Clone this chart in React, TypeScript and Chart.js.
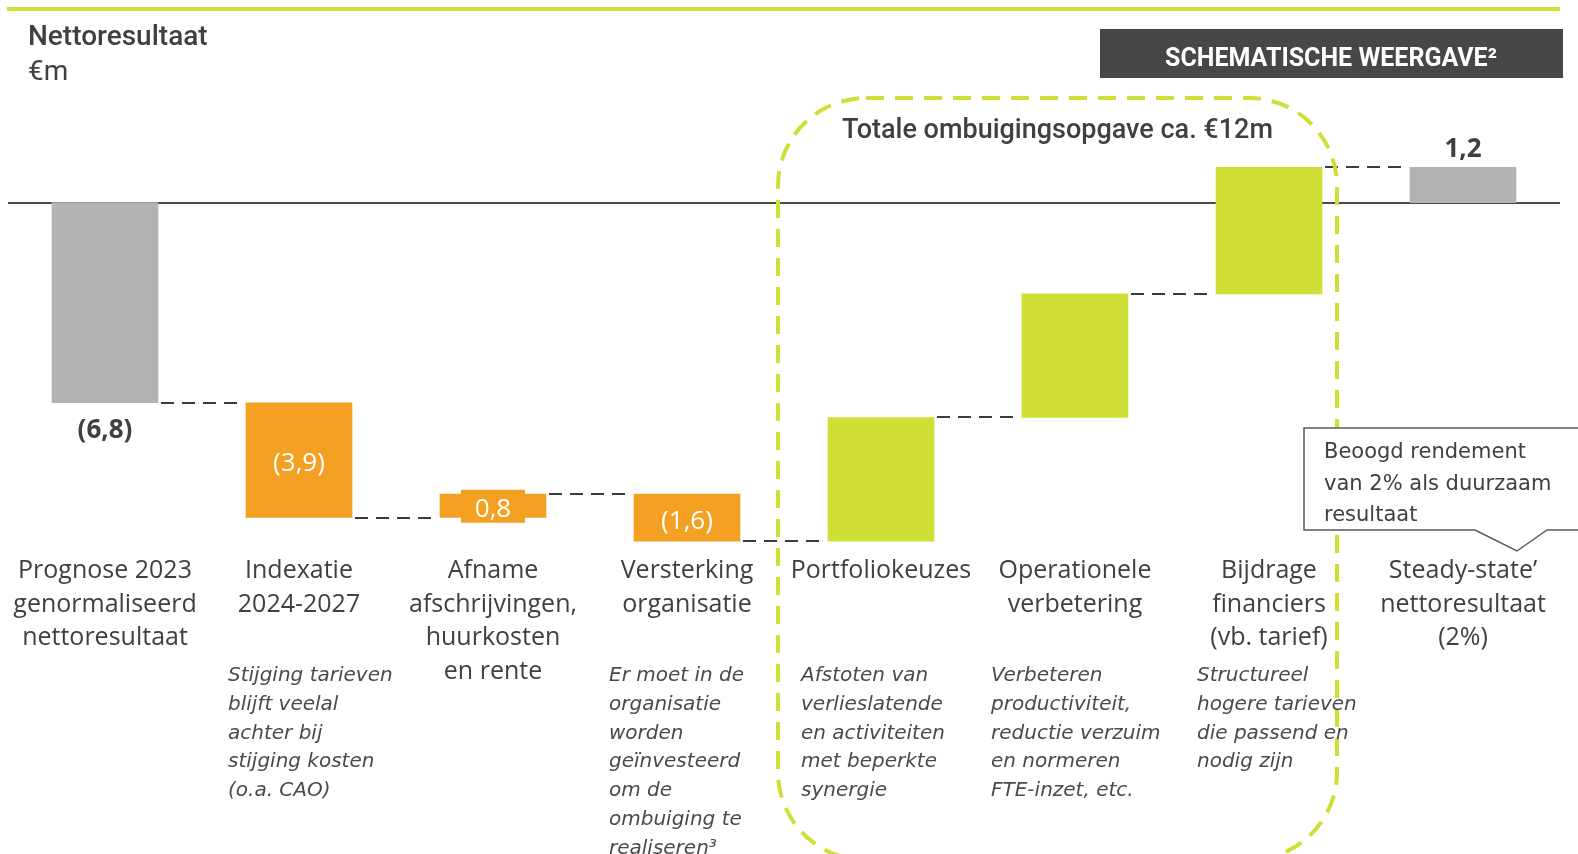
import React, { useEffect, useRef } from "react";
import { Chart, registerables } from "chart.js";

Chart.register(...registerables);

// ---------- data ----------
const categoryLabels: string[][] = [
  ["Prognose 2023", "genormaliseerd", "nettoresultaat"],
  ["Indexatie", "2024-2027"],
  ["Afname", "afschrijvingen,", "huurkosten", "en rente"],
  ["Versterking", "organisatie"],
  ["Portfoliokeuzes"],
  ["Operationele", "verbetering"],
  ["Bijdrage", "financiers", "(vb. tarief)"],
  ["Steady-state’", "nettoresultaat", "(2%)"],
];
const steps: number[] = [-6.8, -3.9, 0.8, -1.6, 4.2, 4.2, 4.3];
const endTotal = 1.2;
const valueLabels: string[] = ["(6,8)", "(3,9)", "0,8", "(1,6)", "", "", "", "1,2"];
const descriptions: string[][] = [
  [],
  ["Stijging tarieven", "blijft veelal", "achter bij", "stijging kosten", "(o.a. CAO)"],
  [],
  ["Er moet in de", "organisatie", "worden", "geïnvesteerd", "om de", "ombuiging te", "realiseren³"],
  ["Afstoten van", "verlieslatende", "en activiteiten", "met beperkte", "synergie"],
  ["Verbeteren", "productiviteit,", "reductie verzuim", "en normeren", "FTE-inzet, etc."],
  ["Structureel", "hogere tarieven", "die passend en", "nodig zijn"],
  [],
];
const chartTitle = "Nettoresultaat";
const unitLabel = "€m";
const badgeText = "SCHEMATISCHE WEERGAVE²";
const bracketText = "Totale ombuigingsopgave ca. €12m";
const calloutLines = ["Beoogd rendement", "van 2% als duurzaam", "resultaat"];

// ---------- styles ----------
const GREY = "#b3b3b3";
const ORANGE = "#f4a023";
const GREEN = "#cfdf35";
const TEXT = "#404040";
const barColors = [GREY, ORANGE, ORANGE, ORANGE, GREEN, GREEN, GREEN, GREY];
const labelPlacement = ["below", "inside", "box", "inside", "", "", "", "above"];
const descOffsets = [0, -71, 0, -78, -80, -84, -72, 0];

// floating ranges built from the steps
const ranges: [number, number][] = [];
{
  let run = 0;
  steps.forEach((s) => {
    const start = run;
    run = Math.round((run + s) * 10) / 10;
    ranges.push([start, run]);
  });
  ranges.push([0, endTotal]);
}

const overlay = {
  id: "overlay",
  beforeDatasetsDraw(chart: any) {
    const ctx = chart.ctx as CanvasRenderingContext2D;
    const ys = chart.scales.y;
    const area = chart.chartArea;
    ctx.save();
    // top accent line
    ctx.fillStyle = GREEN;
    ctx.fillRect(7, 7, area.right - 7, 4);
    // zero line
    const y0 = Math.round(ys.getPixelForValue(0));
    ctx.strokeStyle = "#4a4a4a";
    ctx.lineWidth = 2;
    ctx.beginPath();
    ctx.moveTo(area.left, y0);
    ctx.lineTo(area.right, y0);
    ctx.stroke();
    // title
    ctx.fillStyle = TEXT;
    ctx.textAlign = "left";
    ctx.textBaseline = "alphabetic";
    ctx.font = "500 28px Roboto";
    ctx.fillText(chartTitle, 28, 45);
    ctx.font = "400 28px Roboto";
    ctx.fillText(unitLabel, 28, 80);
    // badge
    ctx.fillStyle = "#474747";
    ctx.fillRect(1100, 29, 463, 49);
    ctx.fillStyle = "#ffffff";
    ctx.textAlign = "center";
    ctx.font = "bold 25px Roboto";
    ctx.fillText(badgeText, 1331, 66);
    ctx.restore();
  },
  afterDatasetsDraw(chart: any) {
    const ctx = chart.ctx as CanvasRenderingContext2D;
    const xs = chart.scales.x;
    const ys = chart.scales.y;
    const bars = chart.getDatasetMeta(0).data;
    ctx.save();

    // connectors
    ctx.strokeStyle = "#3c3c3c";
    ctx.lineWidth = 2;
    ctx.setLineDash([13, 8]);
    for (let i = 0; i < bars.length - 1; i++) {
      const a = bars[i];
      const b = bars[i + 1];
      const yv = Math.round(ys.getPixelForValue(ranges[i][1]));
      ctx.beginPath();
      ctx.moveTo(a.x + a.width / 2 + 3, yv);
      ctx.lineTo(b.x - b.width / 2 - 3, yv);
      ctx.stroke();
    }
    ctx.setLineDash([]);

    // value labels
    bars.forEach((bar: any, i: number) => {
      const txt = valueLabels[i];
      if (!txt) return;
      const top = ys.getPixelForValue(Math.max(ranges[i][0], ranges[i][1]));
      const bottom = ys.getPixelForValue(Math.min(ranges[i][0], ranges[i][1]));
      const mid = (top + bottom) / 2;
      ctx.textAlign = "center";
      ctx.textBaseline = "alphabetic";
      const p = labelPlacement[i];
      if (p === "below") {
        ctx.font = "bold 26px 'Open Sans'";
        ctx.fillStyle = TEXT;
        ctx.fillText(txt, bar.x, bottom + 35);
      } else if (p === "above") {
        ctx.font = "bold 26px 'Open Sans'";
        ctx.fillStyle = TEXT;
        ctx.fillText(txt, bar.x, top - 10);
      } else {
        if (p === "box") {
          ctx.fillStyle = ORANGE;
          ctx.fillRect(bar.x - 32, mid - 16, 64, 33);
        }
        ctx.font = "26px 'Open Sans'";
        ctx.fillStyle = "#ffffff";
        ctx.fillText(txt, bar.x, mid + 11);
      }
    });

    // dashed bracket box
    const left = xs.getPixelForValue(4) - 103;
    const right = xs.getPixelForValue(6) + 68;
    const top = 98;
    const bottom = 860;
    const r = 88;
    ctx.strokeStyle = GREEN;
    ctx.lineWidth = 4;
    ctx.setLineDash([18, 11]);
    ctx.beginPath();
    ctx.moveTo(left + r, top);
    ctx.lineTo(right - r, top);
    ctx.arcTo(right, top, right, top + r, r);
    ctx.lineTo(right, bottom - r);
    ctx.arcTo(right, bottom, right - r, bottom, r);
    ctx.lineTo(left + r, bottom);
    ctx.arcTo(left, bottom, left, bottom - r, r);
    ctx.lineTo(left, top + r);
    ctx.arcTo(left, top, left + r, top, r);
    ctx.closePath();
    ctx.stroke();
    ctx.setLineDash([]);

    ctx.fillStyle = TEXT;
    ctx.font = "500 27px Roboto";
    ctx.textAlign = "center";
    ctx.fillText(bracketText, (left + right) / 2, 138);

    // category labels
    ctx.font = "25px 'Open Sans'";
    ctx.fillStyle = TEXT;
    categoryLabels.forEach((lines, i) => {
      const cx = xs.getPixelForValue(i);
      lines.forEach((ln, j) => ctx.fillText(ln, cx, 578 + j * 33.5));
    });

    // descriptions
    ctx.font = "italic 20px 'DejaVu Sans'";
    ctx.fillStyle = "#4a4a4a";
    ctx.textAlign = "left";
    descriptions.forEach((lines, i) => {
      const lx = xs.getPixelForValue(i) + descOffsets[i];
      lines.forEach((ln, j) => ctx.fillText(ln, lx, 681 + j * 28.8));
    });

    // callout
    const tipX = xs.getPixelForValue(7) + 54;
    ctx.beginPath();
    ctx.moveTo(1600, 530);
    ctx.lineTo(tipX + 30, 530);
    ctx.lineTo(tipX, 551);
    ctx.lineTo(tipX - 42, 530);
    ctx.lineTo(1304, 530);
    ctx.lineTo(1304, 428);
    ctx.lineTo(1600, 428);
    ctx.fillStyle = "#ffffff";
    ctx.fill();
    ctx.strokeStyle = "#595959";
    ctx.lineWidth = 1.5;
    ctx.stroke();
    ctx.fillStyle = TEXT;
    ctx.font = "21px 'DejaVu Sans'";
    calloutLines.forEach((ln, j) => ctx.fillText(ln, 1324, 458 + j * 31.5));

    ctx.restore();
  },
};

export default function App() {
  const ref = useRef<HTMLCanvasElement | null>(null);
  useEffect(() => {
    if (!ref.current) return;
    const chart = new Chart(ref.current, {
      type: "bar",
      data: {
        labels: categoryLabels.map((l) => l.join(" ")),
        datasets: [
          {
            data: ranges as any,
            backgroundColor: barColors,
            borderWidth: 0,
            barThickness: 106,
          },
        ],
      },
      options: {
        responsive: false,
        animation: false,
        layout: { padding: { left: 8, right: 18, top: 85, bottom: 4 } },
        plugins: { legend: { display: false }, tooltip: { enabled: false } },
        scales: {
          x: { display: false },
          y: { display: false, min: -22, max: 4 },
        },
      },
      plugins: [overlay],
    });
    return () => chart.destroy();
  }, []);
  return (
    <div style={{ position: "fixed", left: 0, top: 0, width: 1578, height: 854, background: "#fff" }}>
      <canvas ref={ref} width={1578} height={854} style={{ width: 1578, height: 854, display: "block" }} />
    </div>
  );
}
